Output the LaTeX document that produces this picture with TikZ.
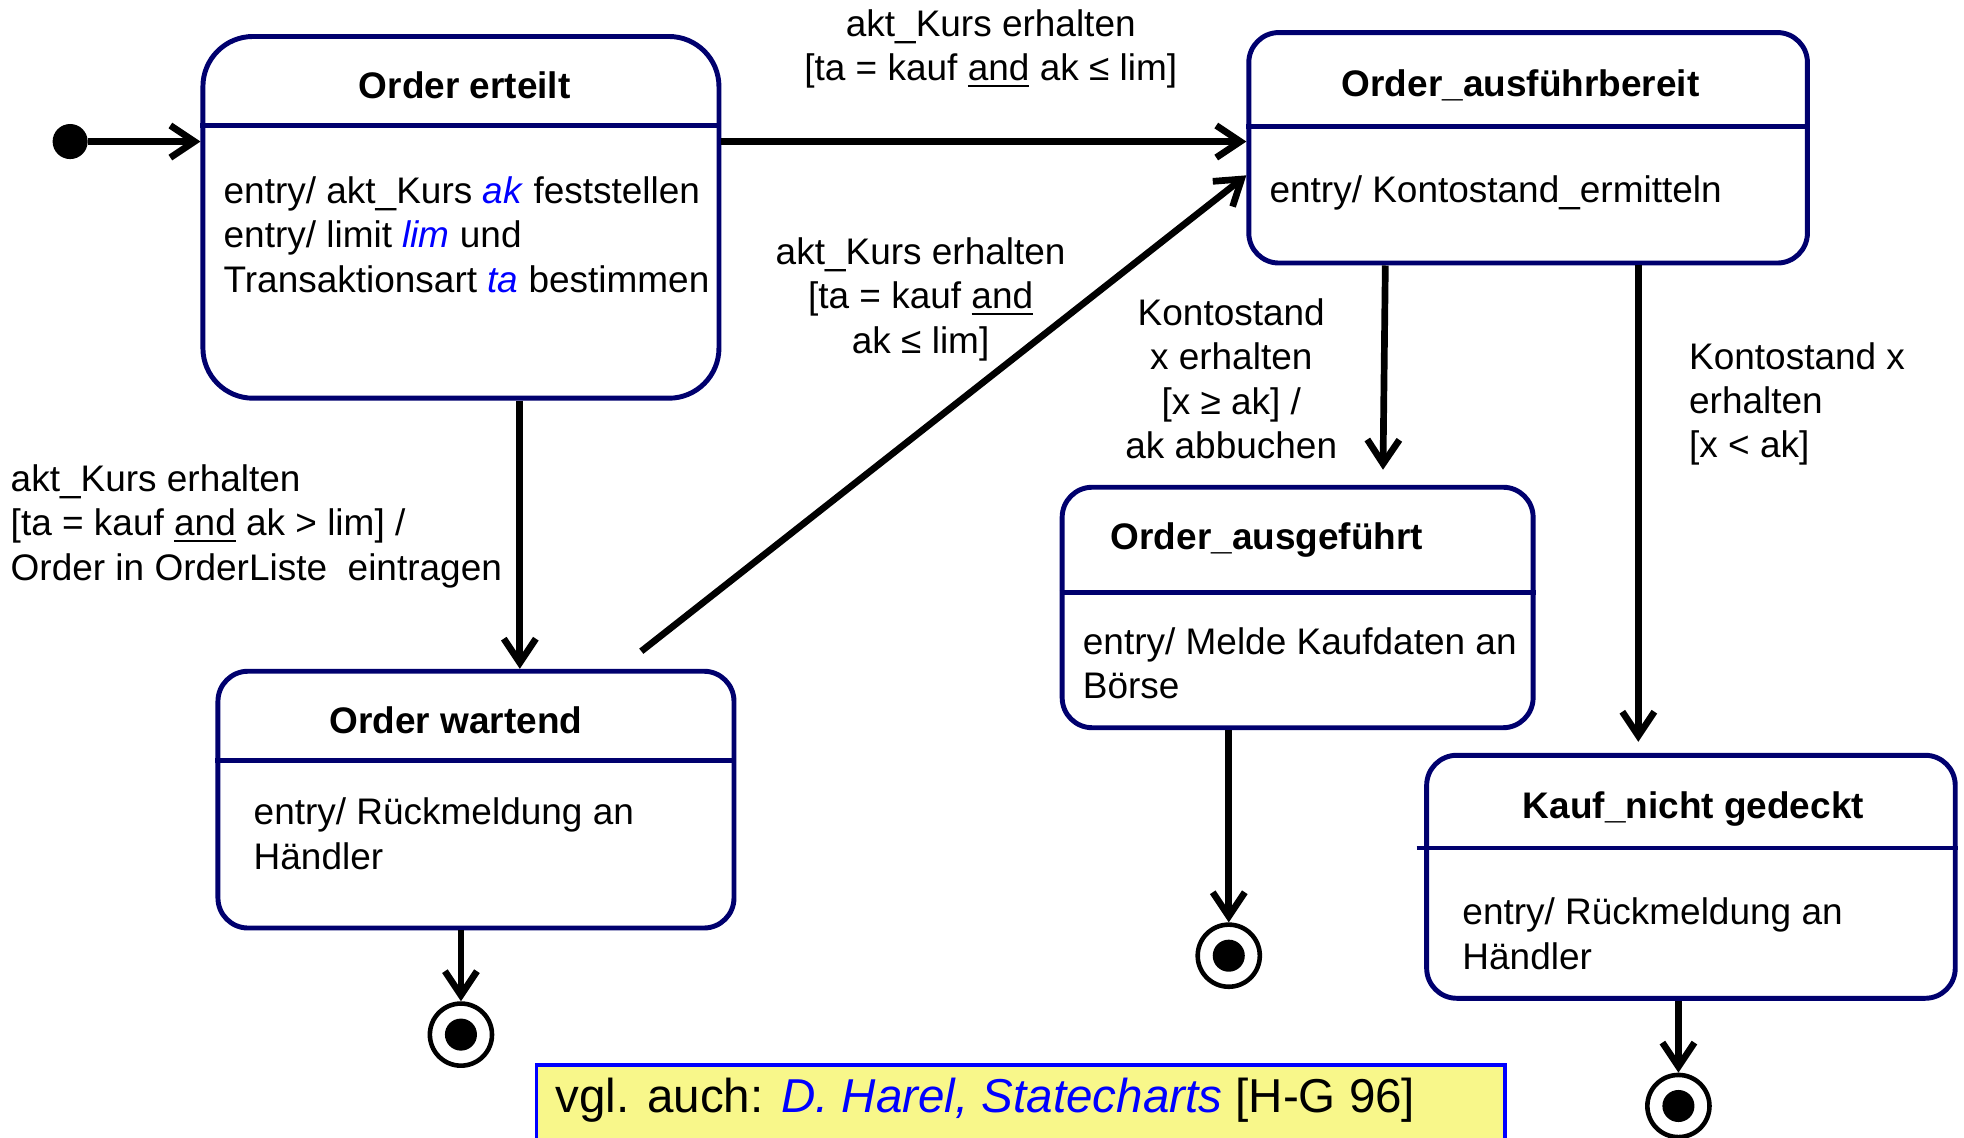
\documentclass[tikz,border=0pt]{standalone}
\usepackage{fontspec}
\setmainfont{Liberation Sans}
\usetikzlibrary{arrows.meta,positioning}
\definecolor{statecol}{RGB}{0,0,110}
\definecolor{notefill}{RGB}{248,247,138}
\newcommand\txtsize{\fontsize{10.5}{12.6}\selectfont}
\newcommand\kvar[1]{\textcolor{blue}{\textit{#1}}}
\tikzset{
  state/.style={draw=statecol,line width=1.4pt,rounded corners=3mm,inner sep=0pt},
  sepline/.style={draw=statecol,line width=1.4pt},
  trans/.style={line width=1.9pt,-{Straight Barb[length=2.4mm,width=3.2mm]}},
  title/.style={font=\txtsize\bfseries,inner sep=0pt},
  body/.style={align=left,anchor=west,inner sep=0pt},
  lbl/.style={align=center,inner sep=0pt},
  final/.style={circle,draw,line width=1.3pt,minimum size=6.2mm,inner sep=0pt},
}
\begin{document}
\begin{tikzpicture}[x=1cm,y=-1cm,font=\txtsize]
\useasboundingbox (0,0) rectangle (19.6,11.35);

\node[state,rounded corners=5mm,minimum width=5.15cm,minimum height=3.61cm] (erteilt) at (4.6,2.169) {};
\node[state,minimum width=5.575cm,minimum height=2.3cm] (bereit) at (15.25,1.475) {};
\node[state,minimum width=5.15cm,minimum height=2.5625cm] (wartend) at (4.75,7.98) {};
\node[state,minimum width=4.7cm,minimum height=2.4cm] (ausgef) at (12.95,6.0625) {};
\node[state,minimum width=5.275cm,minimum height=2.425cm] (nichtged) at (16.875,8.75) {};

\draw[sepline] (erteilt.west |- 0,1.25) -- (erteilt.east |- 0,1.25);
\draw[sepline] (bereit.west |- 0,1.2625) -- (bereit.east |- 0,1.2625);
\draw[sepline] (wartend.west |- 0,7.5875) -- (wartend.east |- 0,7.5875);
\draw[sepline] (ausgef.west |- 0,5.9125) -- (ausgef.east |- 0,5.9125);
\draw[sepline] ([xshift=-0.75mm]nichtged.west |- 0,8.4625) -- (nichtged.east |- 0,8.4625);

\node[title] at (4.6375,0.85) {Order erteilt};
\node[title] at (15.175,0.85) {Order\_ausführbereit};
\node[title] at (4.55,7.185) {Order wartend};
\node[title] at (12.644,5.39) {Order\_ausgeführt};
\node[title] at (16.9,8.075) {Kauf\_nicht gedeckt};

\node[body] at (2.225,2.34) {entry/ akt\_Kurs \kvar{ak} feststellen\\entry/ limit \kvar{lim} und\\Transaktionsart \kvar{ta} bestimmen};
\node[body] at (12.6625,1.925) {entry/ Kontostand\_ermitteln};
\node[body] at (2.525,8.32) {entry/ Rückmeldung an\\Händler};
\node[body] at (10.8,6.62) {entry/ Melde Kaufdaten an\\Börse};
\node[body] at (14.5875,9.32) {entry/ Rückmeldung an\\Händler};

\node[circle,fill,minimum size=3.5mm,inner sep=0pt] (init) at (0.7,1.4125) {};
\node[final] (end1) at (4.6,10.325) {};
\node[final] (end2) at (12.2625,9.5375) {};
\node[final] (end3) at (16.75,11.0375) {};
\fill (end1) circle (1.6mm);
\fill (end2) circle (1.6mm);
\fill (end3) circle (1.6mm);

\draw[trans] (init) -- (erteilt.west |- init);
\draw[trans] (erteilt.east |- init) -- (bereit.west |- init);
\draw[trans] ([xshift=5.875mm]erteilt.south) coordinate (a) -- (a |- wartend.north);
\draw[trans] ([xshift=16.5mm,yshift=1.75mm]wartend.north) -- ([yshift=-2.75mm]bereit.west);
\draw[trans,shorten >=1.5mm] ([xshift=-14.25mm]bereit.south) -- ([xshift=8.5mm]ausgef.north);
\draw[trans,shorten >=1.1mm] ([xshift=11mm]bereit.south) coordinate (b) -- (b |- nichtged.north);
\draw[trans] (wartend.south -| end1) -- (end1);
\draw[trans] (ausgef.south -| end2) -- (end2);
\draw[trans] (nichtged.south -| end3) -- (end3);

\node[lbl] at (9.8875,0.49) {akt\_Kurs erhalten\\{}[ta = kauf \underline{and} ak ≤ lim]};
\node[body] at (0.1,5.25) {akt\_Kurs erhalten\\{}[ta = kauf \underline{and} ak > lim] /\\Order in OrderListe\ \ eintragen};
\node[lbl] at (9.1875,2.985) {akt\_Kurs erhalten\\{}[ta = kauf \underline{and}\\ak ≤ lim]};
\node[lbl] at (12.2875,3.78) {Kontostand\\x erhalten\\{}[x ≥ ak] /\\ak abbuchen};
\node[body] at (16.85,4.03) {Kontostand x\\erhalten\\{}[x < ak]};

\node[draw=blue,line width=1pt,fill=notefill,minimum width=9.6625cm,minimum height=1cm,anchor=north west,inner sep=0pt] (note) at (5.3375,10.6125) {};
\node[anchor=west,inner sep=0pt,font=\fontsize{13.5}{16}\selectfont] (notetext) at (5.5375,10.98) {vgl. auch: \kvar{D. Harel, Statecharts} [H-G 96]};
\end{tikzpicture}
\end{document}
